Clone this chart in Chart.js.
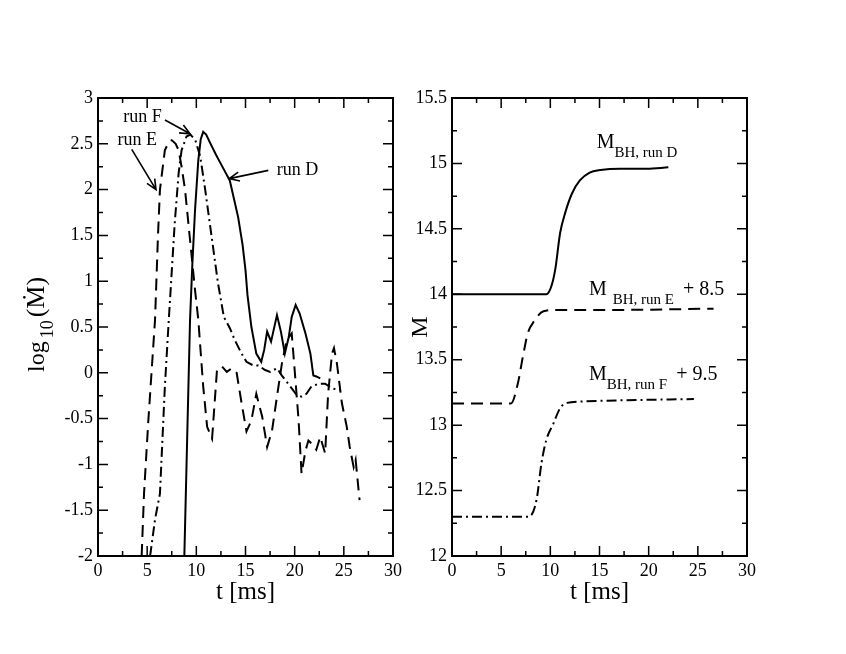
<!DOCTYPE html>
<html>
<head>
<meta charset="utf-8">
<title>Accretion rate and black hole mass</title>
<script src="https://cdn.jsdelivr.net/npm/chart.js@4.4.0/dist/chart.umd.min.js"></script>
<style>
  html, body { margin: 0; padding: 0; background: #fff; }
  #wrap { position: relative; width: 846px; height: 654px; }
  canvas { position: absolute; left: 0; top: 0; }
</style>
</head>
<body>
<div id="wrap">
  <canvas id="mdotChart" width="846" height="654"></canvas>
  <canvas id="massChart" width="846" height="654"></canvas>
</div>
<script>
// ---- left panel: log10(Mdot) vs t [ms] ----
const tRunD = [8.78, 9.05, 9.36, 9.6, 9.87, 10.2, 10.45, 10.7, 11.0, 11.4, 12.0, 12.4, 13.0, 13.4, 14.25, 14.7,
  15.0, 15.2, 15.6, 16.1, 16.6, 16.9, 17.2, 17.6, 18.2, 18.6, 19.0, 19.4, 19.7, 20.1, 20.5, 21.1, 21.6, 21.9, 22.2, 22.6];
const logMdotRunD = [-2.0, -0.8, 0.58, 1.2, 1.78, 2.32, 2.55, 2.63, 2.6, 2.51, 2.38, 2.3, 2.18, 2.1, 1.7, 1.4,
  1.12, 0.85, 0.5, 0.21, 0.12, 0.25, 0.45, 0.34, 0.63, 0.45, 0.21, 0.39, 0.61, 0.74, 0.65, 0.43, 0.21, -0.03, -0.04, -0.06];

const tRunE = [4.44, 4.68, 5.12, 5.8, 6.1, 6.3, 6.8, 7.2, 7.5, 7.9, 8.2, 8.5, 8.85, 9.36, 9.87, 10.2, 10.7, 11.1,
  11.6, 12.1, 12.6, 13.1, 13.6, 14.1, 14.6, 15.1, 15.6, 16.1, 16.7, 17.2, 17.7, 18.2, 18.7, 19.2, 19.7, 20.0,
  20.4, 20.7, 21.1, 21.4, 21.9, 22.2, 22.6, 23.1, 23.4, 23.8, 24.0, 24.3, 24.8, 25.3, 25.6, 26.0, 26.2, 26.6];
const logMdotRunE = [-2.0, -1.32, -0.52, 0.58, 1.5, 2.0, 2.43, 2.52, 2.54, 2.5, 2.43, 2.25, 2.0, 1.45, 0.9, 0.58, -0.15, -0.59,
  -0.72, 0.03, 0.07, 0.01, 0.05, 0.0, -0.33, -0.64, -0.52, -0.23, -0.48, -0.81, -0.63, -0.26, 0.10, 0.36, 0.43, 0.03,
  -0.52, -1.10, -0.85, -0.74, -0.79, -0.84, -0.70, -0.88, -0.23, 0.21, 0.27, 0.10, -0.33, -0.59, -0.81, -1.03, -0.95, -1.39];

const tRunF = [5.3, 5.8, 6.3, 6.8, 7.2, 7.8, 8.2, 8.5, 9.0, 9.4, 9.9, 10.4, 10.9, 11.6, 12.2, 12.8, 13.4, 13.9,
  14.6, 15.1, 15.8, 16.3, 17.0, 17.5, 18.2, 18.7, 19.2, 19.7, 20.2, 20.7, 21.2, 21.7, 22.4, 23.1, 23.8, 24.6];
const logMdotRunF = [-2.0, -1.6, -1.32, -0.15, 0.58, 1.63, 2.18, 2.43, 2.58, 2.6, 2.54, 2.36, 2.0, 1.45, 0.98, 0.61, 0.49, 0.36,
  0.21, 0.12, 0.08, 0.08, 0.03, 0.01, 0.05, -0.03, -0.10, -0.17, -0.24, -0.26, -0.23, -0.15, -0.12, -0.12, -0.17, -0.19];

// ---- right panel: black hole mass (E shifted by +8.5, F by +9.5) ----
const tMassD = [0, 9.6, 10.1, 10.5, 11.0, 11.5, 12.2, 13.0, 14.0, 15.1, 17.1, 19.8, 22.0];
const massD = [14.0, 14.0, 14.06, 14.19, 14.47, 14.62, 14.77, 14.87, 14.93, 14.95, 14.96, 14.96, 14.97];
const tMassE = [0, 6.0, 6.7, 7.2, 7.7, 8.4, 9.3, 10.6, 15.7, 26.6];
const massE = [13.166, 13.166, 13.32, 13.52, 13.70, 13.80, 13.87, 13.88, 13.88, 13.89];
const tMassF = [0, 7.8, 8.6, 9.1, 9.6, 10.3, 11.0, 11.7, 13.0, 24.6];
const massF = [12.30, 12.30, 12.43, 12.71, 12.89, 13.01, 13.13, 13.17, 13.18, 13.20];

// tick labels
const tTicks = [0, 5, 10, 15, 20, 25, 30];
const logMdotTicks = [-2, -1.5, -1, -0.5, 0, 0.5, 1, 1.5, 2, 2.5, 3];
const massTicks = [12, 12.5, 13, 13.5, 14, 14.5, 15, 15.5];

const SERIF = "'Liberation Serif', 'Times New Roman', 'DejaVu Serif', serif";

function pts(xs, ys) {
  return xs.map((x, i) => ({ x: x, y: ys[i] }));
}

function withMinors(vals) {
  const out = [];
  vals.forEach((v, i) => {
    out.push({ v: v, major: true });
    if (i < vals.length - 1) out.push({ v: (v + vals[i + 1]) / 2, major: false });
  });
  return out;
}

// frame + inward ticks on all four sides
function framePlugin(xVals, yVals) {
  return {
    id: 'frame',
    afterDraw(chart) {
      const { ctx, chartArea: a } = chart;
      const xs = chart.scales.x, ys = chart.scales.y;
      ctx.save();
      ctx.strokeStyle = '#000';
      ctx.lineWidth = 1.5;
      ctx.beginPath();
      withMinors(xVals).forEach(t => {
        const px = xs.getPixelForValue(t.v);
        const len = t.major ? 10 : 5;
        ctx.moveTo(px, a.bottom); ctx.lineTo(px, a.bottom - len);
        ctx.moveTo(px, a.top); ctx.lineTo(px, a.top + len);
      });
      withMinors(yVals).forEach(t => {
        const py = ys.getPixelForValue(t.v);
        const len = t.major ? 10 : 5;
        ctx.moveTo(a.left, py); ctx.lineTo(a.left + len, py);
        ctx.moveTo(a.right, py); ctx.lineTo(a.right - len, py);
      });
      ctx.stroke();
      ctx.lineWidth = 2;
      ctx.strokeRect(a.left, a.top, a.right - a.left, a.bottom - a.top);
      ctx.restore();
    }
  };
}

function arrow(ctx, x0, y0, x1, y1) {
  const ang = Math.atan2(y1 - y0, x1 - x0);
  const L = 11, w = 0.42;
  ctx.beginPath();
  ctx.moveTo(x0, y0); ctx.lineTo(x1, y1);
  ctx.moveTo(x1 - L * Math.cos(ang - w), y1 - L * Math.sin(ang - w));
  ctx.lineTo(x1, y1);
  ctx.lineTo(x1 - L * Math.cos(ang + w), y1 - L * Math.sin(ang + w));
  ctx.stroke();
}

// run labels with arrows (positions in data units)
const runNotes = [
  { text: 'run F', t: 2.57, v: 2.74, from: [6.81, 2.76], to: [9.36, 2.61] },
  { text: 'run E', t: 1.98, v: 2.49, from: [3.43, 2.44], to: [5.90, 2.0] },
  { text: 'run D', t: 18.19, v: 2.16, from: [17.32, 2.21], to: [13.35, 2.12] }
];

const mdotNotes = {
  id: 'mdotNotes',
  afterDraw(chart) {
    const { ctx } = chart;
    const xs = chart.scales.x, ys = chart.scales.y;
    ctx.save();
    ctx.fillStyle = '#000';
    ctx.strokeStyle = '#000';
    ctx.lineWidth = 1.6;
    ctx.font = '18px ' + SERIF;
    ctx.textBaseline = 'alphabetic';
    runNotes.forEach(n => {
      ctx.fillText(n.text, xs.getPixelForValue(n.t), ys.getPixelForValue(n.v));
      arrow(ctx, xs.getPixelForValue(n.from[0]), ys.getPixelForValue(n.from[1]),
        xs.getPixelForValue(n.to[0]), ys.getPixelForValue(n.to[1]));
    });
    // y axis title: log10(Mdot), rotated
    ctx.translate(44, 372);
    ctx.rotate(-Math.PI / 2);
    ctx.font = '24px ' + SERIF;
    ctx.fillText('log', 0, 0);
    let w = ctx.measureText('log').width + 3;
    ctx.font = '18px ' + SERIF;
    ctx.fillText('10', w, 9);
    w += ctx.measureText('10').width + 3;
    ctx.font = '26px ' + SERIF;
    ctx.fillText('(\u1E40)', w, 0);
    ctx.restore();
  }
};

const massLabels = [
  { sub: 'BH, run D', tail: '', t: 14.72, m: 15.117, gap: 0 },
  { sub: 'BH, run E', tail: '+ 8.5', t: 13.93, m: 13.995, gap: 6 },
  { sub: 'BH, run F', tail: '+ 9.5', t: 13.93, m: 13.344, gap: 0 }
];

const massNotes = {
  id: 'massNotes',
  afterDraw(chart) {
    const { ctx } = chart;
    const xs = chart.scales.x, ys = chart.scales.y;
    ctx.save();
    ctx.fillStyle = '#000';
    ctx.textBaseline = 'alphabetic';
    massLabels.forEach(l => {
      let x = xs.getPixelForValue(l.t);
      const y = ys.getPixelForValue(l.m);
      ctx.font = '20px ' + SERIF;
      ctx.fillText('M', x, y);
      x += ctx.measureText('M').width + l.gap;
      ctx.font = '15px ' + SERIF;
      ctx.fillText(l.sub, x, y + 9);
      x += ctx.measureText(l.sub).width + 9;
      if (l.tail) {
        ctx.font = '20px ' + SERIF;
        ctx.fillText(l.tail, x, y);
      }
    });
    ctx.restore();
  }
};

function lineSet(data, dash) {
  return {
    data: data,
    borderColor: '#000',
    borderWidth: 2,
    borderDash: dash,
    pointRadius: 0,
    fill: false,
    tension: 0
  };
}

function baseOptions(rightPad, yTicks, yMin, yMax, yTitle) {
  return {
    responsive: false,
    animation: false,
    layout: { padding: { left: 0, top: 98, right: rightPad, bottom: 0 } },
    plugins: { legend: { display: false }, tooltip: { enabled: false } },
    scales: {
      x: {
        type: 'linear',
        min: 0, max: 30,
        afterBuildTicks: s => { s.ticks = tTicks.map(v => ({ value: v })); },
        afterFit: s => { s.height = 98; },
        grid: { display: false, drawTicks: false },
        border: { display: false },
        ticks: {
          color: '#000', font: { family: SERIF, size: 18 }, padding: 4, maxRotation: 0,
          callback: v => String(v)
        },
        title: {
          display: true, text: 't [ms]', color: '#000',
          font: { family: SERIF, size: 25 }, padding: { top: 0, bottom: 47 }
        }
      },
      y: {
        type: 'linear',
        min: yMin, max: yMax,
        afterBuildTicks: s => { s.ticks = yTicks.map(v => ({ value: v })); },
        grid: { display: false, drawTicks: false },
        border: { display: false },
        ticks: {
          color: '#000', font: { family: SERIF, size: 18 }, padding: 5,
          callback: v => String(v)
        },
        title: yTitle
      }
    }
  };
}

// left chart
const mdotOpts = baseOptions(846 - 393, logMdotTicks, -2, 3, { display: false });
mdotOpts.scales.y.afterFit = s => { s.width = 98; };
new Chart(document.getElementById('mdotChart'), {
  type: 'line',
  data: {
    datasets: [
      lineSet(pts(tRunD, logMdotRunD), []),
      lineSet(pts(tRunE, logMdotRunE), [12, 7]),
      lineSet(pts(tRunF, logMdotRunF), [10, 4, 2, 4])
    ]
  },
  options: mdotOpts,
  plugins: [framePlugin(tTicks, logMdotTicks), mdotNotes]
});

// right chart
const massOpts = baseOptions(846 - 747, massTicks, 12, 15.5, {
  display: true, text: 'M', color: '#000',
  font: { family: SERIF, size: 24 }, padding: { top: 406, bottom: 0 }
});
massOpts.scales.y.afterFit = s => { s.width = 452; };
const massSets = [
  lineSet(pts(tMassD, massD), []),
  lineSet(pts(tMassE, massE), [12, 7]),
  lineSet(pts(tMassF, massF), [10, 4, 2, 4])
];
massSets.forEach(d => { d.cubicInterpolationMode = 'monotone'; });
new Chart(document.getElementById('massChart'), {
  type: 'line',
  data: { datasets: massSets },
  options: massOpts,
  plugins: [framePlugin(tTicks, massTicks), massNotes]
});
</script>
</body>
</html>
